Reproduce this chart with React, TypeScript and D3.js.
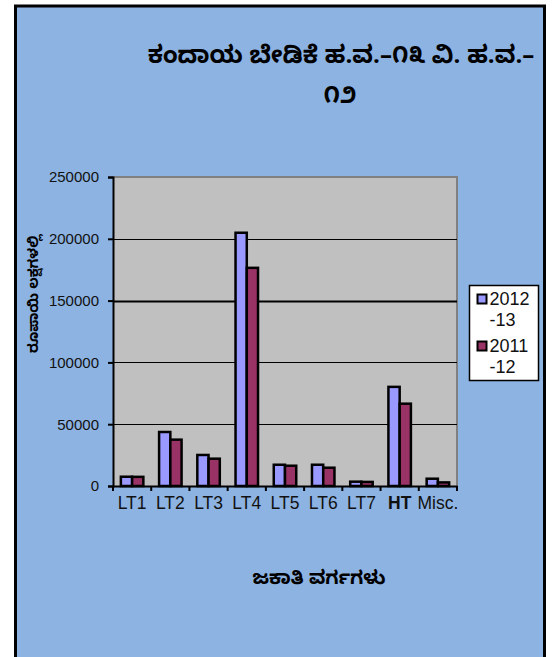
import React, { useRef, useEffect } from "react";
import * as d3 from "d3";

// tariff categories and demand values (Rs. lakhs)
const categories = ["LT1", "LT2", "LT3", "LT4", "LT5", "LT6", "LT7", "HT", "Misc."];
const series = ["2012-13", "2011-12"];
const values2012 = [7500, 43700, 25100, 204900, 17200, 17200, 3500, 80200, 5900];
const values2011 = [7400, 37500, 22100, 176500, 16400, 14800, 3300, 66600, 2900];
const yTicks = [0, 50000, 100000, 150000, 200000, 250000];
const colors = ["#9999FF", "#993366"];

const titleLine1 = "ಕಂದಾಯ ಬೇಡಿಕೆ ಹ.ವ.–೧೩ ವಿ. ಹ.ವ.–";
const titleLine2 = "೧೨";
const yLabel = "ರೂಪಾಯಿ ಲಕ್ಷಗಳಲ್ಲಿ";
const xLabel = "ಜಕಾತಿ ವರ್ಗಗಳು";

const W = 554;
const H = 657;
const kn = "'Noto Sans Kannada', 'Lohit Kannada', 'Noto Sans', sans-serif";
const arial = "'Liberation Sans', Arial, sans-serif";

const App: React.FC = () => {
  const ref = useRef<SVGSVGElement | null>(null);

  useEffect(() => {
    const svg = d3.select(ref.current);
    svg.selectAll("*").remove();

    // outer frame
    svg.append("rect").attr("width", W).attr("height", H).attr("fill", "#fff");
    svg
      .append("path")
      .attr("d", `M15.5,${H + 5} V6 H544.5 V${H + 5}`)
      .attr("fill", "#8DB3E2")
      .attr("stroke", "#000")
      .attr("stroke-width", 3);

    const plot = { left: 113, right: 457, top: 177, bottom: 486 };

    const x = d3
      .scaleBand<string>()
      .domain(categories)
      .range([plot.left, plot.right]);
    const xs = d3
      .scaleBand<string>()
      .domain(series)
      .range([0, x.bandwidth()])
      .paddingInner(0)
      .paddingOuter(0.7);
    const y = d3.scaleLinear().domain([0, 250000]).range([plot.bottom, plot.top]);

    // plot area
    svg
      .append("rect")
      .attr("x", plot.left)
      .attr("y", plot.top)
      .attr("width", plot.right - plot.left)
      .attr("height", plot.bottom - plot.top)
      .attr("fill", "#C0C0C0");
    svg
      .append("path")
      .attr("d", `M${plot.left},${plot.top} H${plot.right} V${plot.bottom}`)
      .attr("fill", "none")
      .attr("stroke", "#808080")
      .attr("stroke-width", 2);

    // gridlines
    svg
      .append("g")
      .selectAll("line")
      .data(yTicks.filter((t) => t > 0 && t < 250000))
      .enter()
      .append("line")
      .attr("x1", plot.left)
      .attr("x2", plot.right)
      .attr("y1", (d) => Math.round(y(d)) + 0.5)
      .attr("y2", (d) => Math.round(y(d)) + 0.5)
      .attr("stroke", "#000")
      .attr("stroke-width", (d) => (d === 150000 ? 2 : 1.2));

    // bars
    const data = categories.map((c, i) => ({
      cat: c,
      vals: [values2012[i], values2011[i]],
    }));
    const groups = svg
      .append("g")
      .selectAll("g")
      .data(data)
      .enter()
      .append("g")
      .attr("transform", (d) => `translate(${x(d.cat)},0)`);
    groups
      .selectAll("rect")
      .data((d) => d.vals.map((v, j) => ({ s: series[j], v, j })))
      .enter()
      .append("rect")
      .attr("x", (d) => xs(d.s)!)
      .attr("width", xs.bandwidth())
      .attr("y", (d) => y(d.v))
      .attr("height", (d) => y(0) - y(d.v))
      .attr("fill", (d) => colors[d.j])
      .attr("stroke", "#000")
      .attr("stroke-width", 2.5);

    // axes
    const yAxis = svg
      .append("g")
      .attr("transform", `translate(${plot.left},0)`)
      .call(d3.axisLeft(y).tickValues(yTicks).tickSize(5).tickPadding(9).tickFormat((d) => String(d)));
    yAxis.select(".domain").attr("stroke", "#000").attr("stroke-width", 2);
    yAxis.selectAll(".tick line").attr("stroke", "#000").attr("stroke-width", 2);
    yAxis
      .selectAll(".tick text")
      .attr("font-family", arial)
      .attr("font-size", 15)
      .attr("fill", "#111");

    const xAxis = svg
      .append("g")
      .attr("transform", `translate(0,${plot.bottom})`)
      .call(d3.axisBottom(x).tickSize(0).tickPadding(11));
    xAxis.select(".domain").attr("stroke", "#000").attr("stroke-width", 2);
    xAxis
      .selectAll(".tick text")
      .attr("font-family", arial)
      .attr("font-size", 17.5)
      .attr("font-weight", (d) => (d === "HT" ? "bold" : "normal"))
      .attr("fill", "#111");
    // category boundary ticks
    svg
      .append("g")
      .selectAll("line")
      .data(categories.map((c) => x(c)!).concat([plot.right]))
      .enter()
      .append("line")
      .attr("x1", (d) => d)
      .attr("x2", (d) => d)
      .attr("y1", plot.bottom)
      .attr("y2", plot.bottom + 5)
      .attr("stroke", "#000")
      .attr("stroke-width", 2);

    // title
    svg
      .append("text")
      .attr("x", 341)
      .attr("y", 63)
      .attr("text-anchor", "middle")
      .attr("font-family", kn)
      .attr("font-size", 24)
      .attr("font-weight", "bold")
      .text(titleLine1);
    svg
      .append("text")
      .attr("x", 340)
      .attr("y", 103)
      .attr("text-anchor", "middle")
      .attr("font-family", kn)
      .attr("font-size", 24)
      .attr("font-weight", "bold")
      .text(titleLine2);

    // axis titles
    svg
      .append("text")
      .attr("transform", `translate(38,294) rotate(-90)`)
      .attr("text-anchor", "middle")
      .attr("font-family", kn)
      .attr("font-size", 14)
      .attr("font-weight", "bold")
      .text(yLabel);
    svg
      .append("text")
      .attr("x", 319)
      .attr("y", 584)
      .attr("text-anchor", "middle")
      .attr("font-family", kn)
      .attr("font-size", 19)
      .attr("font-weight", "bold")
      .text(xLabel);

    // legend
    const lg = svg.append("g").attr("transform", "translate(469.5,285.5)");
    lg.append("rect")
      .attr("width", 69)
      .attr("height", 95)
      .attr("fill", "#fff")
      .attr("stroke", "#000")
      .attr("stroke-width", 1.5);
    series.forEach((s, i) => {
      const [a, b] = s.split("-");
      const row = lg.append("g").attr("transform", `translate(0,${i * 47})`);
      row
        .append("rect")
        .attr("x", 8)
        .attr("y", 9)
        .attr("width", 9)
        .attr("height", 9)
        .attr("fill", colors[i])
        .attr("stroke", "#000")
        .attr("stroke-width", 2);
      row
        .append("text")
        .attr("x", 20)
        .attr("y", 19)
        .attr("font-family", arial)
        .attr("font-size", 18)
        .attr("fill", "#111")
        .text(a);
      row
        .append("text")
        .attr("x", 20)
        .attr("y", 40)
        .attr("font-family", arial)
        .attr("font-size", 18)
        .attr("fill", "#111")
        .text("-" + b);
    });
  }, []);

  return (
    <svg
      ref={ref}
      width={W}
      height={H}
      style={{ position: "absolute", left: 0, top: 0 }}
    />
  );
};

export default App;
